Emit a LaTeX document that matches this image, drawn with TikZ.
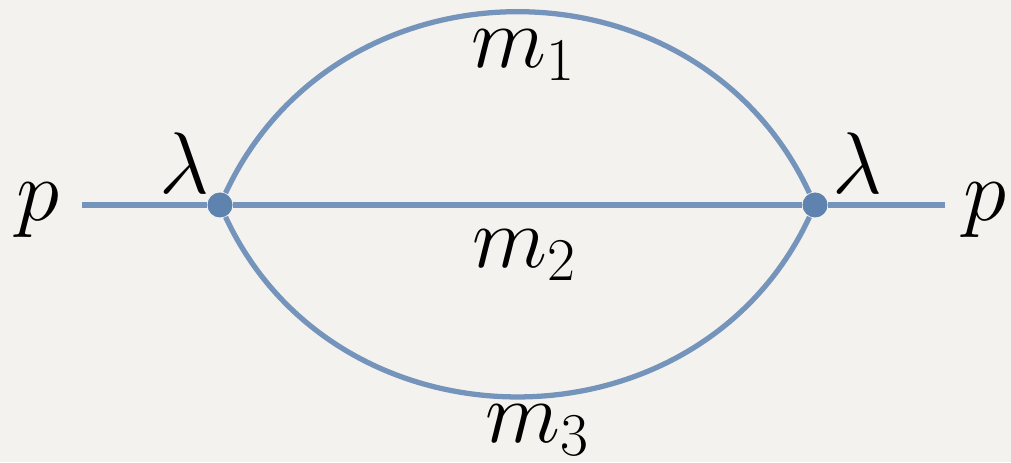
\documentclass[tikz,border=0pt]{standalone}
\usepackage{amsmath}
\usepackage{tikz}
\usetikzlibrary{positioning,calc}
\definecolor{paper}{HTML}{F4F2EE}
\definecolor{propblue}{HTML}{7594BB}
\definecolor{dotblue}{HTML}{5F83AF}
\tikzset{prop/.style={line width=1.5pt, color=propblue}}
\tikzset{vertex/.style={circle, fill=dotblue, inner sep=0pt, minimum size=0.25cm}}
\tikzset{lbl/.style={font=\fontsize{23}{27}\selectfont, inner sep=0pt}}
\tikzset{ext/.style={font=\fontsize{28}{32}\selectfont, inner sep=0pt}}

\begin{document}
\begin{tikzpicture}
  % Fondo
  \fill[paper] (0,0) rectangle (10.11,4.62);
  \useasboundingbox (0,0) rectangle (10.11,4.62);

  % Vertices y extremos externos
  \node[vertex] (vl) at (2.20,2.57) {};
  \node[vertex] (vr) at (8.15,2.57) {};
  \coordinate (pin) at (0.82,2.57);
  \coordinate (pout) at (9.45,2.57);

  % Propagadores
  \draw[prop] (pin) -- (vl);
  \draw[prop] (vr) -- (pout);
  \draw[prop] (vl) -- (vr);
  \draw[prop] (vl) .. controls +(65:2.80) and +(115:2.80) .. (vr);
  \draw[prop] (vl) .. controls +(-65:2.78) and +(-115:2.78) .. (vr);

  % Etiquetas
  \node[ext] (pl) at (0.38,2.52) {$p$};
  \node[ext] (pr) at (9.85,2.52) {$p$};
  \node[lbl] (lamL) at (1.84,2.99) {$\lambda$};
  \node[lbl] (lamR) at (8.57,2.99) {$\lambda$};
  \node[lbl] (m1) at (5.24,4.07) {$m_1$};
  \node[lbl] (m2) at (5.25,2.07) {$m_2$};
  \node[lbl] (m3) at (5.38,0.32) {$m_3$};
\end{tikzpicture}
\end{document}
